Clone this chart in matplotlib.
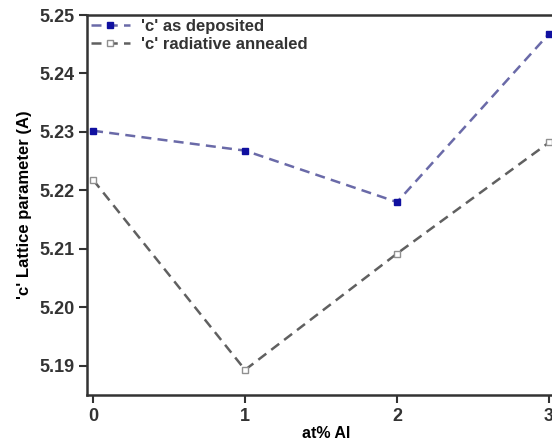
import numpy as np
import matplotlib
matplotlib.use('Agg')
import matplotlib.pyplot as plt

plt.rcParams['font.family'] = ['Liberation Sans', 'DejaVu Sans']
plt.rcParams['font.weight'] = 'bold'

# Data
al_pct = [0, 1, 2, 3]
c_deposited = [5.2302, 5.2268, 5.2180, 5.2468]
c_annealed = [5.2218, 5.1893, 5.2092, 5.2282]

fig = plt.figure(figsize=(5.52, 4.44), dpi=100)
# axes extends past the right edge (reference is cropped there)
ax = fig.add_axes([87 / 552, 1 - 395 / 444, 3.15 * 152 / 552, (395 - 15) / 444])

ax.plot(al_pct, c_deposited, linestyle=(0, (4, 2.5)), color='#6a6aa8', linewidth=1.8,
        marker='s', markersize=4.5, markerfacecolor='#1010a0', markeredgecolor='#1010a0',
        label="'c' as deposited")
ax.plot(al_pct, c_annealed, linestyle=(0, (4, 2.5)), color='#606060', linewidth=1.8,
        marker='s', markersize=4.5, markerfacecolor='white', markeredgecolor='#909090',
        label="'c' radiative annealed")

ax.set_xlim(-0.04, 3.11)
ax.set_ylim(5.185, 5.25)
ax.set_xticks(al_pct)
ax.set_yticks([5.19, 5.20, 5.21, 5.22, 5.23, 5.24, 5.25])
ax.set_yticklabels(['5.19', '5.20', '5.21', '5.22', '5.23', '5.24', '5.25'])

ax.tick_params(direction='out', length=6, width=1.5, labelsize=13, colors='#333333', pad=3)
for s in ax.spines.values():
    s.set_linewidth(1.8)
    s.set_color('#333333')

ax.set_xlabel('at% Al', fontsize=11.5, fontweight='bold', labelpad=1)
ax.set_ylabel("'c' Lattice parameter (A)", fontsize=12, fontweight='bold', labelpad=5)

leg = ax.legend(loc='upper left', frameon=False, fontsize=12, borderaxespad=0.25,
                borderpad=0.0, handlelength=2.3, handletextpad=0.7, labelspacing=0.15)
for t in leg.get_texts():
    t.set_color('#333333')

fig.savefig('out.png', dpi=100)
